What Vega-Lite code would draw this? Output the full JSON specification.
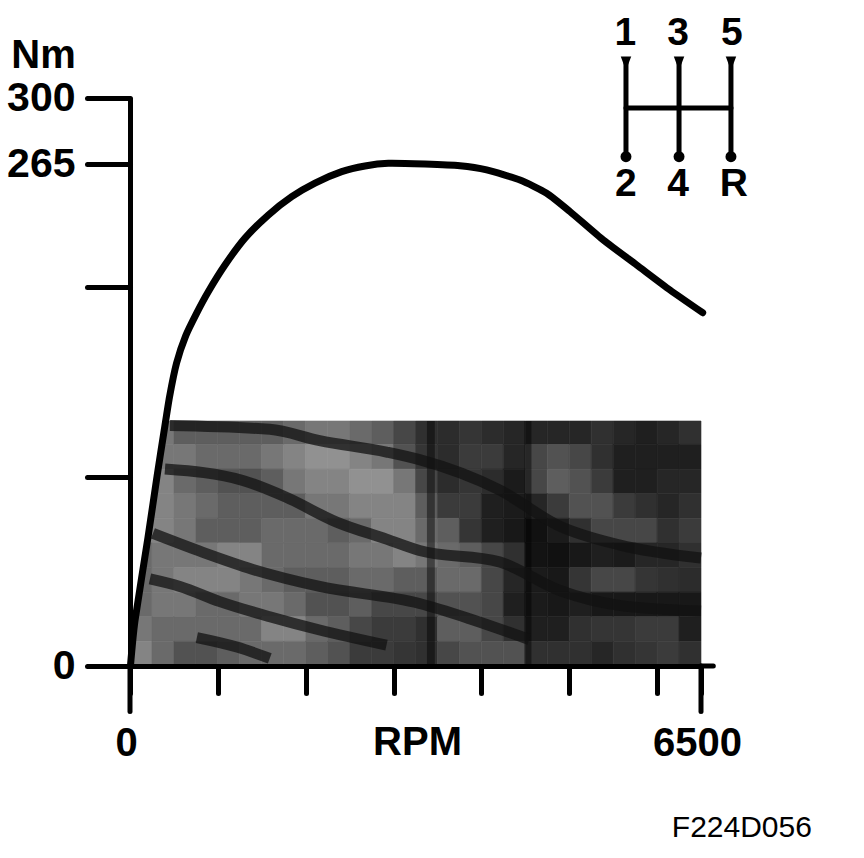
{"$schema":"https://vega.github.io/schema/vega-lite/v6.json","autosize":"none","width":571,"height":568,"padding":{"left":130,"top":98,"right":163,"bottom":192},"background":"white","config":{"view":{"stroke":null},"font":"Liberation Sans"},
"datasets":{"curve":[{"x":6,"y":0.5},{"x":57,"y":24},{"x":205,"y":68},{"x":307,"y":100},{"x":390,"y":124.7},{"x":450,"y":142.2},{"x":530,"y":160},{"x":635,"y":174.5},{"x":759,"y":186.4},{"x":891,"y":197.7},{"x":1081,"y":211.8},{"x":1309,"y":226},{"x":1574,"y":238.2},{"x":1841,"y":247.9},{"x":2106,"y":255.1},{"x":2410,"y":261.1},{"x":2675,"y":264.1},{"x":2940,"y":265.5},{"x":3358,"y":265.1},{"x":3756,"y":264.2},{"x":4060,"y":262},{"x":4439,"y":256.7},{"x":4743,"y":249.7},{"x":5009,"y":240},{"x":5388,"y":225},{"x":5768,"y":211.8},{"x":6147,"y":198.6},{"x":6519,"y":186.6}]},
"layer":[
{"data":{"values":[
{"x":0,"xe":250,"y":117,"ye":129.4,"v":50},{"x":250,"xe":500,"y":117,"ye":129.4,"v":50},{"x":500,"xe":750,"y":117,"ye":129.4,"v":40},{"x":750,"xe":1000,"y":117,"ye":129.4,"v":40},{"x":1000,"xe":1250,"y":117,"ye":129.4,"v":40},{"x":1250,"xe":1500,"y":117,"ye":129.4,"v":40},{"x":1500,"xe":1750,"y":117,"ye":129.4,"v":40},{"x":1750,"xe":2000,"y":117,"ye":129.4,"v":45},{"x":2000,"xe":2250,"y":117,"ye":129.4,"v":50},{"x":2250,"xe":2500,"y":117,"ye":129.4,"v":50},{"x":2500,"xe":2750,"y":117,"ye":129.4,"v":45},{"x":2750,"xe":3000,"y":117,"ye":129.4,"v":40},{"x":3000,"xe":3250,"y":117,"ye":129.4,"v":30},{"x":3250,"xe":3500,"y":117,"ye":129.4,"v":20},{"x":3500,"xe":3750,"y":117,"ye":129.4,"v":18},{"x":3750,"xe":4000,"y":117,"ye":129.4,"v":22},{"x":4000,"xe":4250,"y":117,"ye":129.4,"v":18},{"x":4250,"xe":4500,"y":117,"ye":129.4,"v":15},{"x":4500,"xe":4750,"y":117,"ye":129.4,"v":15},{"x":4750,"xe":5000,"y":117,"ye":129.4,"v":15},{"x":5000,"xe":5250,"y":117,"ye":129.4,"v":15},{"x":5250,"xe":5500,"y":117,"ye":129.4,"v":20},{"x":5500,"xe":5750,"y":117,"ye":129.4,"v":15},{"x":5750,"xe":6000,"y":117,"ye":129.4,"v":12},{"x":6000,"xe":6250,"y":117,"ye":129.4,"v":15},{"x":6250,"xe":6500,"y":117,"ye":129.4,"v":20},
{"x":0,"xe":250,"y":104,"ye":117,"v":50},{"x":250,"xe":500,"y":104,"ye":117,"v":50},{"x":500,"xe":750,"y":104,"ye":117,"v":50},{"x":750,"xe":1000,"y":104,"ye":117,"v":45},{"x":1000,"xe":1250,"y":104,"ye":117,"v":45},{"x":1250,"xe":1500,"y":104,"ye":117,"v":45},{"x":1500,"xe":1750,"y":104,"ye":117,"v":50},{"x":1750,"xe":2000,"y":104,"ye":117,"v":55},{"x":2000,"xe":2250,"y":104,"ye":117,"v":60},{"x":2250,"xe":2500,"y":104,"ye":117,"v":60},{"x":2500,"xe":2750,"y":104,"ye":117,"v":55},{"x":2750,"xe":3000,"y":104,"ye":117,"v":50},{"x":3000,"xe":3250,"y":104,"ye":117,"v":35},{"x":3250,"xe":3500,"y":104,"ye":117,"v":22},{"x":3500,"xe":3750,"y":104,"ye":117,"v":18},{"x":3750,"xe":4000,"y":104,"ye":117,"v":25},{"x":4000,"xe":4250,"y":104,"ye":117,"v":25},{"x":4250,"xe":4500,"y":104,"ye":117,"v":15},{"x":4500,"xe":4750,"y":104,"ye":117,"v":30},{"x":4750,"xe":5000,"y":104,"ye":117,"v":35},{"x":5000,"xe":5250,"y":104,"ye":117,"v":30},{"x":5250,"xe":5500,"y":104,"ye":117,"v":20},{"x":5500,"xe":5750,"y":104,"ye":117,"v":12},{"x":5750,"xe":6000,"y":104,"ye":117,"v":12},{"x":6000,"xe":6250,"y":104,"ye":117,"v":12},{"x":6250,"xe":6500,"y":104,"ye":117,"v":12},
{"x":0,"xe":250,"y":91,"ye":104,"v":55},{"x":250,"xe":500,"y":91,"ye":104,"v":55},{"x":500,"xe":750,"y":91,"ye":104,"v":45},{"x":750,"xe":1000,"y":91,"ye":104,"v":40},{"x":1000,"xe":1250,"y":91,"ye":104,"v":35},{"x":1250,"xe":1500,"y":91,"ye":104,"v":35},{"x":1500,"xe":1750,"y":91,"ye":104,"v":40},{"x":1750,"xe":2000,"y":91,"ye":104,"v":50},{"x":2000,"xe":2250,"y":91,"ye":104,"v":55},{"x":2250,"xe":2500,"y":91,"ye":104,"v":55},{"x":2500,"xe":2750,"y":91,"ye":104,"v":60},{"x":2750,"xe":3000,"y":91,"ye":104,"v":60},{"x":3000,"xe":3250,"y":91,"ye":104,"v":50},{"x":3250,"xe":3500,"y":91,"ye":104,"v":30},{"x":3500,"xe":3750,"y":91,"ye":104,"v":18},{"x":3750,"xe":4000,"y":91,"ye":104,"v":22},{"x":4000,"xe":4250,"y":91,"ye":104,"v":18},{"x":4250,"xe":4500,"y":91,"ye":104,"v":10},{"x":4500,"xe":4750,"y":91,"ye":104,"v":30},{"x":4750,"xe":5000,"y":91,"ye":104,"v":40},{"x":5000,"xe":5250,"y":91,"ye":104,"v":35},{"x":5250,"xe":5500,"y":91,"ye":104,"v":25},{"x":5500,"xe":5750,"y":91,"ye":104,"v":12},{"x":5750,"xe":6000,"y":91,"ye":104,"v":12},{"x":6000,"xe":6250,"y":91,"ye":104,"v":15},{"x":6250,"xe":6500,"y":91,"ye":104,"v":15},
{"x":0,"xe":250,"y":78,"ye":91,"v":55},{"x":250,"xe":500,"y":78,"ye":91,"v":55},{"x":500,"xe":750,"y":78,"ye":91,"v":50},{"x":750,"xe":1000,"y":78,"ye":91,"v":45},{"x":1000,"xe":1250,"y":78,"ye":91,"v":40},{"x":1250,"xe":1500,"y":78,"ye":91,"v":40},{"x":1500,"xe":1750,"y":78,"ye":91,"v":40},{"x":1750,"xe":2000,"y":78,"ye":91,"v":40},{"x":2000,"xe":2250,"y":78,"ye":91,"v":50},{"x":2250,"xe":2500,"y":78,"ye":91,"v":50},{"x":2500,"xe":2750,"y":78,"ye":91,"v":55},{"x":2750,"xe":3000,"y":78,"ye":91,"v":55},{"x":3000,"xe":3250,"y":78,"ye":91,"v":55},{"x":3250,"xe":3500,"y":78,"ye":91,"v":40},{"x":3500,"xe":3750,"y":78,"ye":91,"v":25},{"x":3750,"xe":4000,"y":78,"ye":91,"v":25},{"x":4000,"xe":4250,"y":78,"ye":91,"v":12},{"x":4250,"xe":4500,"y":78,"ye":91,"v":10},{"x":4500,"xe":4750,"y":78,"ye":91,"v":15},{"x":4750,"xe":5000,"y":78,"ye":91,"v":25},{"x":5000,"xe":5250,"y":78,"ye":91,"v":35},{"x":5250,"xe":5500,"y":78,"ye":91,"v":35},{"x":5500,"xe":5750,"y":78,"ye":91,"v":25},{"x":5750,"xe":6000,"y":78,"ye":91,"v":20},{"x":6000,"xe":6250,"y":78,"ye":91,"v":15},{"x":6250,"xe":6500,"y":78,"ye":91,"v":20},
{"x":0,"xe":250,"y":65,"ye":78,"v":55},{"x":250,"xe":500,"y":65,"ye":78,"v":55},{"x":500,"xe":750,"y":65,"ye":78,"v":50},{"x":750,"xe":1000,"y":65,"ye":78,"v":40},{"x":1000,"xe":1250,"y":65,"ye":78,"v":40},{"x":1250,"xe":1500,"y":65,"ye":78,"v":40},{"x":1500,"xe":1750,"y":65,"ye":78,"v":45},{"x":1750,"xe":2000,"y":65,"ye":78,"v":45},{"x":2000,"xe":2250,"y":65,"ye":78,"v":45},{"x":2250,"xe":2500,"y":65,"ye":78,"v":40},{"x":2500,"xe":2750,"y":65,"ye":78,"v":45},{"x":2750,"xe":3000,"y":65,"ye":78,"v":55},{"x":3000,"xe":3250,"y":65,"ye":78,"v":55},{"x":3250,"xe":3500,"y":65,"ye":78,"v":45},{"x":3500,"xe":3750,"y":65,"ye":78,"v":40},{"x":3750,"xe":4000,"y":65,"ye":78,"v":22},{"x":4000,"xe":4250,"y":65,"ye":78,"v":12},{"x":4250,"xe":4500,"y":65,"ye":78,"v":8},{"x":4500,"xe":4750,"y":65,"ye":78,"v":5},{"x":4750,"xe":5000,"y":65,"ye":78,"v":10},{"x":5000,"xe":5250,"y":65,"ye":78,"v":20},{"x":5250,"xe":5500,"y":65,"ye":78,"v":30},{"x":5500,"xe":5750,"y":65,"ye":78,"v":30},{"x":5750,"xe":6000,"y":65,"ye":78,"v":30},{"x":6000,"xe":6250,"y":65,"ye":78,"v":20},{"x":6250,"xe":6500,"y":65,"ye":78,"v":25},
{"x":0,"xe":250,"y":52,"ye":65,"v":45},{"x":250,"xe":500,"y":52,"ye":65,"v":50},{"x":500,"xe":750,"y":52,"ye":65,"v":50},{"x":750,"xe":1000,"y":52,"ye":65,"v":50},{"x":1000,"xe":1250,"y":52,"ye":65,"v":55},{"x":1250,"xe":1500,"y":52,"ye":65,"v":55},{"x":1500,"xe":1750,"y":52,"ye":65,"v":45},{"x":1750,"xe":2000,"y":52,"ye":65,"v":45},{"x":2000,"xe":2250,"y":52,"ye":65,"v":45},{"x":2250,"xe":2500,"y":52,"ye":65,"v":45},{"x":2500,"xe":2750,"y":52,"ye":65,"v":50},{"x":2750,"xe":3000,"y":52,"ye":65,"v":50},{"x":3000,"xe":3250,"y":52,"ye":65,"v":55},{"x":3250,"xe":3500,"y":52,"ye":65,"v":50},{"x":3500,"xe":3750,"y":52,"ye":65,"v":45},{"x":3750,"xe":4000,"y":52,"ye":65,"v":40},{"x":4000,"xe":4250,"y":52,"ye":65,"v":30},{"x":4250,"xe":4500,"y":52,"ye":65,"v":20},{"x":4500,"xe":4750,"y":52,"ye":65,"v":6},{"x":4750,"xe":5000,"y":52,"ye":65,"v":5},{"x":5000,"xe":5250,"y":52,"ye":65,"v":8},{"x":5250,"xe":5500,"y":52,"ye":65,"v":12},{"x":5500,"xe":5750,"y":52,"ye":65,"v":10},{"x":5750,"xe":6000,"y":52,"ye":65,"v":15},{"x":6000,"xe":6250,"y":52,"ye":65,"v":15},{"x":6250,"xe":6500,"y":52,"ye":65,"v":20},
{"x":0,"xe":250,"y":39,"ye":52,"v":45},{"x":250,"xe":500,"y":39,"ye":52,"v":50},{"x":500,"xe":750,"y":39,"ye":52,"v":55},{"x":750,"xe":1000,"y":39,"ye":52,"v":55},{"x":1000,"xe":1250,"y":39,"ye":52,"v":55},{"x":1250,"xe":1500,"y":39,"ye":52,"v":50},{"x":1500,"xe":1750,"y":39,"ye":52,"v":45},{"x":1750,"xe":2000,"y":39,"ye":52,"v":40},{"x":2000,"xe":2250,"y":39,"ye":52,"v":40},{"x":2250,"xe":2500,"y":39,"ye":52,"v":40},{"x":2500,"xe":2750,"y":39,"ye":52,"v":45},{"x":2750,"xe":3000,"y":39,"ye":52,"v":45},{"x":3000,"xe":3250,"y":39,"ye":52,"v":40},{"x":3250,"xe":3500,"y":39,"ye":52,"v":40},{"x":3500,"xe":3750,"y":39,"ye":52,"v":45},{"x":3750,"xe":4000,"y":39,"ye":52,"v":45},{"x":4000,"xe":4250,"y":39,"ye":52,"v":30},{"x":4250,"xe":4500,"y":39,"ye":52,"v":15},{"x":4500,"xe":4750,"y":39,"ye":52,"v":10},{"x":4750,"xe":5000,"y":39,"ye":52,"v":8},{"x":5000,"xe":5250,"y":39,"ye":52,"v":22},{"x":5250,"xe":5500,"y":39,"ye":52,"v":30},{"x":5500,"xe":5750,"y":39,"ye":52,"v":30},{"x":5750,"xe":6000,"y":39,"ye":52,"v":22},{"x":6000,"xe":6250,"y":39,"ye":52,"v":20},{"x":6250,"xe":6500,"y":39,"ye":52,"v":18},
{"x":0,"xe":250,"y":26,"ye":39,"v":45},{"x":250,"xe":500,"y":26,"ye":39,"v":50},{"x":500,"xe":750,"y":26,"ye":39,"v":50},{"x":750,"xe":1000,"y":26,"ye":39,"v":45},{"x":1000,"xe":1250,"y":26,"ye":39,"v":45},{"x":1250,"xe":1500,"y":26,"ye":39,"v":50},{"x":1500,"xe":1750,"y":26,"ye":39,"v":50},{"x":1750,"xe":2000,"y":26,"ye":39,"v":45},{"x":2000,"xe":2250,"y":26,"ye":39,"v":35},{"x":2250,"xe":2500,"y":26,"ye":39,"v":35},{"x":2500,"xe":2750,"y":26,"ye":39,"v":40},{"x":2750,"xe":3000,"y":26,"ye":39,"v":30},{"x":3000,"xe":3250,"y":26,"ye":39,"v":30},{"x":3250,"xe":3500,"y":26,"ye":39,"v":30},{"x":3500,"xe":3750,"y":26,"ye":39,"v":35},{"x":3750,"xe":4000,"y":26,"ye":39,"v":35},{"x":4000,"xe":4250,"y":26,"ye":39,"v":30},{"x":4250,"xe":4500,"y":26,"ye":39,"v":12},{"x":4500,"xe":4750,"y":26,"ye":39,"v":10},{"x":4750,"xe":5000,"y":26,"ye":39,"v":8},{"x":5000,"xe":5250,"y":26,"ye":39,"v":12},{"x":5250,"xe":5500,"y":26,"ye":39,"v":8},{"x":5500,"xe":5750,"y":26,"ye":39,"v":8},{"x":5750,"xe":6000,"y":26,"ye":39,"v":8},{"x":6000,"xe":6250,"y":26,"ye":39,"v":8},{"x":6250,"xe":6500,"y":26,"ye":39,"v":8},
{"x":0,"xe":250,"y":13,"ye":26,"v":50},{"x":250,"xe":500,"y":13,"ye":26,"v":45},{"x":500,"xe":750,"y":13,"ye":26,"v":45},{"x":750,"xe":1000,"y":13,"ye":26,"v":45},{"x":1000,"xe":1250,"y":13,"ye":26,"v":45},{"x":1250,"xe":1500,"y":13,"ye":26,"v":45},{"x":1500,"xe":1750,"y":13,"ye":26,"v":55},{"x":1750,"xe":2000,"y":13,"ye":26,"v":55},{"x":2000,"xe":2250,"y":13,"ye":26,"v":45},{"x":2250,"xe":2500,"y":13,"ye":26,"v":40},{"x":2500,"xe":2750,"y":13,"ye":26,"v":30},{"x":2750,"xe":3000,"y":13,"ye":26,"v":25},{"x":3000,"xe":3250,"y":13,"ye":26,"v":25},{"x":3250,"xe":3500,"y":13,"ye":26,"v":20},{"x":3500,"xe":3750,"y":13,"ye":26,"v":40},{"x":3750,"xe":4000,"y":13,"ye":26,"v":40},{"x":4000,"xe":4250,"y":13,"ye":26,"v":30},{"x":4250,"xe":4500,"y":13,"ye":26,"v":20},{"x":4500,"xe":4750,"y":13,"ye":26,"v":12},{"x":4750,"xe":5000,"y":13,"ye":26,"v":12},{"x":5000,"xe":5250,"y":13,"ye":26,"v":20},{"x":5250,"xe":5500,"y":13,"ye":26,"v":22},{"x":5500,"xe":5750,"y":13,"ye":26,"v":22},{"x":5750,"xe":6000,"y":13,"ye":26,"v":25},{"x":6000,"xe":6250,"y":13,"ye":26,"v":25},{"x":6250,"xe":6500,"y":13,"ye":26,"v":12},
{"x":0,"xe":250,"y":0,"ye":13,"v":55},{"x":250,"xe":500,"y":0,"ye":13,"v":45},{"x":500,"xe":750,"y":0,"ye":13,"v":35},{"x":750,"xe":1000,"y":0,"ye":13,"v":35},{"x":1000,"xe":1250,"y":0,"ye":13,"v":40},{"x":1250,"xe":1500,"y":0,"ye":13,"v":45},{"x":1500,"xe":1750,"y":0,"ye":13,"v":45},{"x":1750,"xe":2000,"y":0,"ye":13,"v":45},{"x":2000,"xe":2250,"y":0,"ye":13,"v":40},{"x":2250,"xe":2500,"y":0,"ye":13,"v":35},{"x":2500,"xe":2750,"y":0,"ye":13,"v":25},{"x":2750,"xe":3000,"y":0,"ye":13,"v":25},{"x":3000,"xe":3250,"y":0,"ye":13,"v":22},{"x":3250,"xe":3500,"y":0,"ye":13,"v":20},{"x":3500,"xe":3750,"y":0,"ye":13,"v":30},{"x":3750,"xe":4000,"y":0,"ye":13,"v":35},{"x":4000,"xe":4250,"y":0,"ye":13,"v":35},{"x":4250,"xe":4500,"y":0,"ye":13,"v":35},{"x":4500,"xe":4750,"y":0,"ye":13,"v":20},{"x":4750,"xe":5000,"y":0,"ye":13,"v":20},{"x":5000,"xe":5250,"y":0,"ye":13,"v":20},{"x":5250,"xe":5500,"y":0,"ye":13,"v":15},{"x":5500,"xe":5750,"y":0,"ye":13,"v":20},{"x":5750,"xe":6000,"y":0,"ye":13,"v":22},{"x":6000,"xe":6250,"y":0,"ye":13,"v":25},{"x":6250,"xe":6500,"y":0,"ye":13,"v":20}
]},
"mark":{"type":"rect","strokeWidth":0.6},"encoding":{"x":{"field":"x","type":"quantitative","scale":{"domain":[0,6500],"nice":false,"zero":false},"axis":{"zindex":1,"values":[0,1000,2000,3000,4000,5000,6000,6500],"title":"RPM","titleFontSize":40,"titleFontWeight":"bold","titleColor":"#000","titleX":287,"titleY":76,"titleBaseline":"middle","titleAlign":"center","tickSize":27,"tickWidth":5,"tickColor":"#000","tickCap":"round","domainWidth":5,"domainColor":"#000","grid":false,"labelFontSize":40,"labelFontWeight":"bold","labelColor":"#000","labelPadding":30,"labelOffset":-4,"labelBound":false,"labelFlush":false,"labelOverlap":false,"labelExpr":"datum.value==0?'0':datum.value==6500?'6500':''"}},"x2":{"field":"xe"},"y":{"field":"y","type":"quantitative","scale":{"domain":[0,300],"nice":false,"zero":false},"axis":{"zindex":1,"values":[0,100,200,265,300],"title":"Nm","titleFontSize":40,"titleFontWeight":"bold","titleColor":"#000","titleAngle":0,"titleX":-87,"titleY":-43,"titleAlign":"center","titleBaseline":"middle","tickSize":43,"tickWidth":5,"tickColor":"#000","tickCap":"round","domainWidth":5,"domainColor":"#000","grid":false,"labelFontSize":41,"labelFontWeight":"bold","labelColor":"#000","labelPadding":12,"labelOverlap":false,"labelBound":false,"labelFlush":false,"labelExpr":"datum.value==0?'0':(datum.value==300||datum.value==265)?datum.label:''","encode":{"labels":{"update":{"dx":{"signal":"datum.value===0?-16:0"}}}}}},"y2":{"field":"ye"},"color":{"field":"v","type":"quantitative","scale":{"domain":[0,100],"range":["#000000","#ffffff"]},"legend":null},"stroke":{"field":"v","type":"quantitative","scale":{"domain":[0,100],"range":["#000000","#ffffff"]},"legend":null}}},
{"data":{"values":[{"x":3380,"xe":3470,"y":0,"ye":129.4},{"x":4490,"xe":4570,"y":0,"ye":129.4}]},"mark":{"type":"rect","fill":"#000","opacity":0.45},"encoding":{"x":{"field":"x","type":"quantitative"},"x2":{"field":"xe"},"y":{"field":"y","type":"quantitative"},"y2":{"field":"ye"}}},
{"data":{"values":[{"b":1,"x":455,"y":127},{"b":1,"x":1591,"y":125},{"b":1,"x":2159,"y":119},{"b":1,"x":2920,"y":113},{"b":1,"x":3295,"y":109},{"b":1,"x":4205,"y":93},{"b":1,"x":4886,"y":74},{"b":1,"x":5568,"y":64},{"b":1,"x":6500,"y":57},{"b":2,"x":398,"y":104},{"b":2,"x":1284,"y":98},{"b":2,"x":1784,"y":89},{"b":2,"x":2352,"y":76},{"b":2,"x":2920,"y":67},{"b":2,"x":3295,"y":61},{"b":2,"x":4205,"y":55},{"b":2,"x":4886,"y":40},{"b":2,"x":5568,"y":32},{"b":2,"x":6500,"y":29},{"b":3,"x":261,"y":70},{"b":3,"x":830,"y":60},{"b":3,"x":1398,"y":51},{"b":3,"x":2159,"y":42},{"b":3,"x":3295,"y":33},{"b":3,"x":3864,"y":25},{"b":3,"x":4545,"y":14},{"b":4,"x":227,"y":46},{"b":4,"x":568,"y":42},{"b":4,"x":1023,"y":34},{"b":4,"x":1591,"y":26},{"b":4,"x":2159,"y":19},{"b":4,"x":2920,"y":11},{"b":5,"x":761,"y":15},{"b":5,"x":1216,"y":10},{"b":5,"x":1591,"y":4}]},
"mark":{"type":"line","stroke":"#111111","strokeWidth":11,"opacity":0.75,"strokeCap":"butt","interpolate":"monotone"},"encoding":{"x":{"field":"x","type":"quantitative"},"y":{"field":"y","type":"quantitative"},"detail":{"field":"b"}}},
{"data":{"name":"curve"},"transform":[{"filter":"datum.y<=145"}],"mark":{"type":"area","orient":"horizontal","fill":"white","opacity":1},"encoding":{"y":{"field":"y","type":"quantitative"},"x":{"field":"x","type":"quantitative"},"x2":{"datum":0}}},
{"data":{"name":"curve"},"mark":{"type":"line","stroke":"#000","strokeWidth":7,"interpolate":"cardinal","tension":0.4,"strokeCap":"round"},"encoding":{"x":{"field":"x","type":"quantitative","sort":null},"y":{"field":"y","type":"quantitative"}}},
{"data":{"values":[{"x":0,"y":0,"x2":0,"y2":-24},{"x":6500,"y":0,"x2":6500,"y2":-24},{"x":6500,"y":0,"x2":6640,"y2":0},{"x":5646,"y":320,"x2":5646,"y2":269},{"x":6250,"y":320,"x2":6250,"y2":269},{"x":6841,"y":320,"x2":6841,"y2":269},{"x":5646,"y":294.7,"x2":6841,"y2":294.7}]},"mark":{"type":"rule","stroke":"#000","strokeWidth":5,"strokeCap":"round"},"encoding":{"x":{"field":"x","type":"quantitative"},"y":{"field":"y","type":"quantitative"},"x2":{"field":"x2"},"y2":{"field":"y2"}}},
{"data":{"values":[{"x":5646,"y":269},{"x":6250,"y":269},{"x":6841,"y":269}]},"mark":{"type":"point","filled":true,"fill":"#000","opacity":1,"size":120},"encoding":{"x":{"field":"x","type":"quantitative"},"y":{"field":"y","type":"quantitative"}}},
{"data":{"values":[{"x":5646,"y":320},{"x":6250,"y":320},{"x":6841,"y":320}]},"mark":{"type":"point","shape":"M-1,-0.7L1,-0.7L0.4,0.9L-0.4,0.9Z","filled":true,"fill":"#000","opacity":1,"size":110},"encoding":{"x":{"field":"x","type":"quantitative"},"y":{"field":"y","type":"quantitative"}}},
{"data":{"values":[{"x":5640,"y":334.5,"t":"1"},{"x":6239,"y":334.5,"t":"3"},{"x":6850,"y":334.5,"t":"5"},{"x":5645,"y":254.5,"t":"2"},{"x":6239,"y":254.5,"t":"4"},{"x":6875,"y":254.5,"t":"R"}]},"mark":{"type":"text","fontSize":39,"fontWeight":"bold","color":"#000","align":"center","baseline":"middle"},"encoding":{"x":{"field":"x","type":"quantitative"},"y":{"field":"y","type":"quantitative"},"text":{"field":"t"}}},
{"data":{"values":[{"x":6965,"y":-85.6,"t":"F224D056"}]},"mark":{"type":"text","fontSize":30,"color":"#000","align":"center","baseline":"middle"},"encoding":{"x":{"field":"x","type":"quantitative"},"y":{"field":"y","type":"quantitative"},"text":{"field":"t"}}}
]}
